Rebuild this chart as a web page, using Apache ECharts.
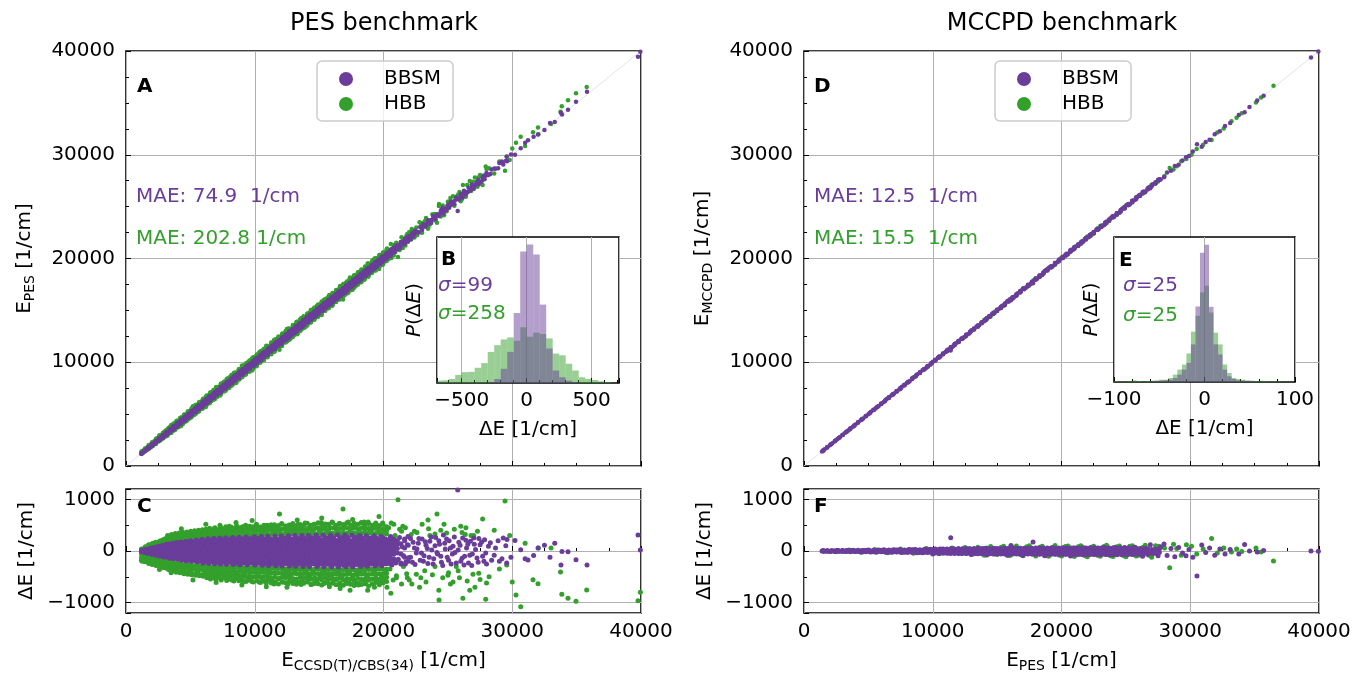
<!DOCTYPE html>
<html><head><meta charset="utf-8">
<script src="https://cdn.jsdelivr.net/npm/echarts@6/dist/echarts.min.js"></script>
<style>html,body{margin:0;padding:0;background:#fff}#c{width:1359px;height:679px}</style>
</head><body><div id="c"></div>
<script>
// ---------- DATA ----------
// PES benchmark points: [E_CCSD(T)/CBS(34), dE]  (E_PES = E_ref - dE)
const pesBbsm = [
[1240,-10],[1300,15],[1380,-25],[1450,5],[1520,30],[1600,-35],[1660,10],[1740,-50],[1810,45],[1880,-5],[1950,60],[2020,-65],[2090,20],[2160,-30],[2230,75],[2300,-80],[2370,35],[2440,-10],[2510,90],[2580,-95],[2650,45],[2720,-45],[2790,105],[2860,-110],[2930,0],[3000,60],
[3060,-120],[3120,125],[3180,-60],[3240,20],[3300,135],[3370,-140],[3430,70],[3490,-75],[3550,5],[3620,150],[3680,-150],[3740,85],[3800,-90],[3860,30],[3930,165],[4000,-160],[4060,100],[4120,-105],[4180,-20],[4250,175],[4310,-180],[4370,45],[4430,120],[4500,-125],[4560,10],[4620,185],[4690,-190],[4750,-55],[4810,135],[4880,60],[4940,-140],
[5010,200],[5080,-200],[5140,-15],[5200,140],[5270,-145],[5330,75],[5390,-80],[5460,215],[5520,-210],[5590,5],[5650,150],[5720,-155],[5780,85],[5850,-90],[5910,225],[5980,-230],[6040,20],[6110,165],[6170,-160],[6240,95],[6300,-100],[6370,235],[6430,-235],[6500,-25],[6560,170],[6630,-175],[6690,105],[6760,-105],[6820,240],[6890,-245],[6950,40],[7020,180],[7080,-185],[7150,110],[7210,-115],[7280,250],[7340,-250],[7410,-10],[7470,185],[7540,-190],[7600,120],[7670,-120],[7730,255],[7800,-255],[7860,50],[7930,-60],
[8000,195],[8070,-195],[8140,125],[8210,-130],[8280,260],[8350,-260],[8420,30],[8490,190],[8560,-200],[8630,135],[8700,-130],[8770,265],[8840,-265],[8910,-40],[8980,60],
[9050,200],[9120,-205],[9190,140],[9260,-140],[9330,270],[9400,-265],[9470,15],[9540,205],[9610,-210],[9680,145],[9750,-145],[9820,75],[9890,-75],[9960,275],
[10030,-270],[10100,210],[10170,-215],[10240,150],[10310,-150],[10380,80],[10450,-85],[10520,280],[10590,-275],[10660,0],[10730,215],[10800,-220],[10870,155],[10940,-155],[11010,285],
[11080,-280],[11150,85],[11220,-90],[11290,220],[11360,-225],[11430,160],[11500,-160],[11570,290],[11640,-285],[11710,25],[11780,225],[11850,-230],[11920,165],[11990,-165],
[12060,290],[12130,-290],[12200,90],[12270,-95],[12340,230],[12410,-235],[12480,170],[12550,-170],[12620,295],[12690,-290],[12760,-20],[12830,230],[12900,-235],[12970,175],
[13040,-175],[13110,300],[13180,-295],[13250,95],[13320,-100],[13390,235],[13460,-240],[13530,180],[13600,-180],[13670,300],[13740,-300],[13810,40],[13880,240],[13950,-245],
[14020,180],[14100,-185],[14170,300],[14250,-300],[14320,100],[14400,-105],[14470,240],[14550,-245],[14620,185],[14700,-185],[14770,305],[14850,-300],[14920,-30],[15000,245],
[15070,-250],[15150,190],[15220,-190],[15300,305],[15370,-305],[15450,105],[15520,-110],[15600,250],[15670,-255],[15750,190],[15820,-195],[15900,310],[15970,-305],[16050,50],
[16120,250],[16200,-255],[16270,195],[16350,-195],[16420,310],[16500,-310],[16570,110],[16650,-115],[16720,255],[16800,-260],[16870,195],[16950,-200],[17020,310],[17100,-305],
[17170,-10],[17250,255],[17320,-260],[17400,200],[17470,-200],[17550,305],[17620,-305],[17700,110],[17770,-115],[17850,255],[17920,-260],[18000,200],[18070,-200],[18150,300],
[18220,-300],[18300,60],[18370,250],[18450,-255],[18520,195],[18600,-200],[18670,295],[18750,-295],[18820,110],[18900,-110],[18970,245],[19050,-250],[19120,190],[19200,-195],
[19270,290],[19350,-290],[19420,-30],[19500,240],[19570,-245],[19650,185],[19720,-190],[19800,280],[19870,-285],[19950,100],
[20050,-105],[20150,230],[20250,-240],[20350,180],[20450,-180],[20550,280],[20650,-270],[20750,40],[20850,220],[20950,-230],[21050,150],[21150,-160],[21250,260],[21350,-250],[21450,80],[21550,-90],[21650,200],[21750,-210],[21850,120],[21950,-130],[22100,240],[22250,-220],[22400,60],[22550,-40],
[22700,150],[22850,-180],[23000,230],[23150,-90],[23300,110],[23450,-240],[23600,190],[23750,20],[23900,-150],[24050,260],[24200,-60],[24350,130],[24500,-220],[24650,310],[24800,40],[24950,-120],[25100,200],[25250,-250],[25400,90],[25550,-30],[25763,1180],[25850,170],[26000,-200],[26150,250],[26300,-100],[26450,60],[26600,-230],[26750,190],[26900,-60],[27050,130],[27262,-136],[27400,240],[27620,175],[27800,-200],[27939,-39],[28150,90],[28400,-180],[28700,60],[29000,-200],[29300,250],[29569,-230],[29592,223],[29900,-120],[30213,204],[30656,25],[31000,-150],[31223,-175],[31658,-87],[32000,60],[32500,110],[32932,-120],[33300,150],[33786,-272],[33864,-8],[34330,-15],[34951,-167],[35806,-272],[39767,310],[39950,20],
[21700,-250],[21900,280],[22100,-120],[22300,170],[22450,-260],[22600,40],[22750,240],[22950,-40],[23100,-200],[23250,180],[23400,50],[23550,-120],[23700,270],[23850,-250],[24000,100],[24150,-30],[24300,200],[24450,-100],[24600,-280],[24750,150],[24900,230],[25050,-180],[25200,60],[25350,-60],[25500,270],[25650,-230],[25800,20],[25950,110],[26100,-140],[26250,-270],[26400,210],[26550,130],[26700,-80],[26850,-280],[27000,250],[27150,30],[27350,-220],[27500,120],[27700,-100],[27850,220],[28000,-250],[28300,160],[28600,-80],[28900,200],[29200,-150],[29500,100]
];
// dense core of the BBSM band: [E_ref, dE, dE, ...]
const pesBbsmCols = [
[1200,-10,12],[1480,-25,0,22],[1760,-38,-5,35],[2040,-55,-15,20,52],[2320,-68,-25,15,65],[2600,-85,-30,25,80],
[2880,-100,-45,5,50,98],[3160,-112,-55,-2,55,110],[3440,-125,-65,-10,45,120],[3720,-135,-75,-15,40,95,132],
[4000,-148,-90,-30,30,85,145],[4280,-158,-100,-40,20,78,152],[4560,-168,-110,-50,10,70,130,165],[4840,-176,-118,-60,0,60,118,175],
[5120,-185,-125,-65,-5,55,115,180],[5400,-190,-130,-70,-10,50,110,170,188],[5680,-196,-140,-80,-20,40,100,155,195],[5960,-200,-145,-85,-25,35,95,150,200],
[6240,-204,-150,-90,-30,30,90,150,205],[6520,-208,-150,-92,-35,25,85,145,208],[6800,-212,-155,-95,-38,20,78,138,210],[7080,-215,-158,-100,-40,18,75,135,214],
[7360,-218,-160,-102,-45,15,72,130,188,218],[7640,-220,-165,-105,-48,10,68,125,182,220],[7920,-224,-168,-110,-52,5,64,122,178,224],[8200,-226,-170,-112,-55,0,58,118,174,226],
[8480,-228,-172,-115,-58,-2,55,115,172,228],[8760,-230,-174,-118,-60,-5,52,110,170,230],[9040,-232,-176,-120,-62,-8,50,108,168,232],[9320,-234,-178,-122,-65,-10,48,105,165,234],
[9600,-236,-180,-124,-66,-12,45,102,162,236],[9880,-238,-180,-125,-68,-12,44,100,160,238],
[10160,-240,-182,-125,-68,-10,48,106,164,222,245],[10440,-244,-190,-132,-72,-15,42,100,158,215,242],[10720,-238,-178,-120,-62,-4,54,112,170,226],[11000,-246,-192,-135,-78,-20,38,96,154,210,246],
[11280,-240,-184,-126,-68,-8,50,108,166,224],[11560,-248,-195,-138,-80,-22,36,94,152,208,248],[11840,-242,-186,-128,-70,-12,46,104,162,220],[12120,-250,-196,-140,-82,-25,34,92,150,206,250],
[12400,-244,-188,-130,-72,-14,44,102,160,218,240],[12680,-250,-198,-142,-85,-28,30,88,146,204,250],[12960,-246,-190,-132,-74,-16,42,100,158,216],[13240,-252,-200,-145,-88,-30,28,86,144,202,252],
[13520,-248,-192,-134,-76,-18,40,98,156,214,244],[13800,-254,-202,-146,-90,-32,26,84,142,200,254],[14080,-248,-194,-136,-78,-20,38,96,154,212],[14360,-255,-204,-148,-92,-34,24,82,140,198,255],
[14640,-250,-195,-138,-80,-22,36,94,152,210,250],[14920,-256,-205,-150,-94,-36,22,80,138,196,256],[15200,-250,-196,-140,-82,-24,34,92,150,208],[15480,-256,-206,-150,-95,-38,20,78,136,194,256],
[15760,-252,-198,-142,-84,-26,32,90,148,206,252],[16040,-258,-206,-152,-96,-40,18,76,134,192,258],[16320,-252,-200,-144,-86,-28,30,88,146,204],[16600,-258,-208,-152,-98,-42,16,74,132,190,258],
[16880,-254,-200,-146,-88,-30,28,86,144,202,254],[17160,-258,-208,-154,-100,-44,14,72,130,188,258],[17440,-254,-202,-148,-90,-32,26,84,142,200],[17720,-256,-206,-152,-98,-42,16,74,132,190,256],
[18000,-252,-200,-146,-88,-30,28,86,144,202,250],[18280,-255,-205,-150,-96,-40,18,76,134,192,255],[18560,-250,-198,-144,-86,-28,30,88,146,204],[18840,-254,-204,-148,-94,-38,20,78,136,194,254],
[19120,-248,-196,-142,-84,-26,32,90,148,206,246],[19400,-252,-202,-146,-92,-36,22,80,138,196,252],[19680,-246,-194,-140,-82,-24,34,92,150,208],[19960,-250,-200,-144,-90,-34,24,82,140,198,250],
[20240,-244,-190,-136,-78,-20,38,96,154,212],[20520,-246,-194,-140,-86,-30,28,86,144,202,246],[20800,-220,-150,-60,10,90,160,226],[21080,-180,-40,50,130,200],
[21360,-230,-60,140],[21640,-120,60,230],[21920,-200,110]
];
const pesHbb = [
[1250,-200],[1300,40],[1400,-120],[1500,80],[1600,-160],[1700,100],[1800,-220],[1900,120],[2000,-250],[2100,150],[2200,-180],[2300,170],[2400,-270],[2500,140],[2600,-300],[2700,200],[2800,-230],[2900,220],[3000,-320],
[3080,240],[3150,-280],[3230,300],[3300,-360],[3380,190],[3450,-250],[3530,320],[3600,-390],[3680,260],[3750,-300],[3830,340],[3900,-410],[3980,200],[4050,-270],[4130,350],[4200,-420],[4280,280],[4350,-330],[4430,360],[4500,-440],[4580,230],[4650,-290],[4730,370],[4800,-450],[4880,300],[4950,-350],[5030,380],[5100,-460],[5180,250],[5250,-300],[5330,390],[5400,-470],[5480,320],[5550,-380],[5630,400],[5700,-480],[5780,270],[5850,-320],[5930,410],[6000,-490],
[6070,330],[6140,-400],[6210,420],[6280,-520],[6350,290],[6420,-340],[6490,440],[6560,-540],[6630,360],[6700,-430],[6770,300],[6840,-300],[6910,450],[6980,-550],[7050,380],
[7120,-460],[7190,320],[7260,-360],[7330,460],[7400,-560],[7470,280],[7540,-490],[7610,400],[7680,-320],[7750,470],[7820,-570],[7890,340],[7960,-420],
[8030,480],[8100,-520],[8170,300],[8240,-350],[8310,420],[8380,-580],[8450,360],[8520,-450],[8590,490],[8660,-300],[8730,310],[8800,-540],[8870,440],[8940,-390],
[9010,380],[9080,-600],[9150,290],[9220,-470],[9290,500],[9360,-330],[9430,340],[9500,-560],[9570,450],[9640,-410],[9710,300],[9780,-590],[9850,470],[9920,-310],
[9990,360],[10060,-500],[10130,520],[10200,-440],[10270,310],[10340,-600],[10410,430],[10480,-350],[10550,390],[10620,-530],[10690,480],[10760,-300],[10830,330],[10900,-620],
[10970,500],[11040,-460],[11110,290],[11180,-380],[11250,440],[11320,-570],[11390,370],[11460,-320],[11530,510],[11600,-610],[11670,320],[11740,-420],[11810,460],[11880,-530],
[11950,350],[12020,-300],[12090,530],[12160,-600],[12230,300],[12300,-480],[12370,420],[12440,-370],[12510,480],[12580,-640],[12650,340],[12720,-450],[12790,500],[12860,-320],
[12930,380],[13000,-560],[13070,450],[13140,-400],[13210,310],[13280,-620],[13350,520],[13420,-340],[13490,370],[13560,-500],[13630,470],[13700,-590],[13770,330],[13840,-430],
[13910,540],[13980,-310],[14050,400],[14120,-570],[14190,300],[14260,-480],[14330,490],[14400,-650],[14470,350],[14540,-380],[14610,520],[14680,-530],[14750,320],[14820,-600],
[14890,450],[14960,-340],[15030,380],[15100,-500],[15170,550],[15240,-420],[15310,310],[15380,-630],[15450,470],[15520,-360],[15590,400],[15660,-560],[15730,520],[15800,-470],
[15870,340],[15940,-310],[16010,560],[16080,-600],[16150,300],[16220,-440],[16290,480],[16360,-540],[16430,360],[16500,-380],[16570,530],[16640,-660],[16710,330],[16780,-490],
[16850,440],[16920,-330],[16990,500],[17060,-580],[17130,310],[17200,-420],[17270,560],[17340,-620],[17410,380],[17480,-350],[17550,470],[17620,-520],[17690,340],[17760,-600],
[17830,510],[17900,-440],[17970,300],[18040,-660],[18110,420],[18180,-380],[18250,540],[18320,-560],[18390,350],[18460,-320],[18530,480],[18600,-620],[18670,330],[18740,-470],
[18810,560],[18880,-540],[18950,380],[19020,-350],[19090,450],[19160,-640],[19230,310],[19300,-430],[19370,520],[19440,-580],[19510,360],[19580,-330],[19650,490],[19720,-610],
[19790,340],[19860,-480],[19930,540],[20000,-550],
[20100,380],[20200,-420],[20270,-700],[20400,450],[20500,-350],[20600,540],[20750,-560],[20900,300],[21000,-480],[21126,990],[21250,420],[21400,-640],[21550,-300],[21700,450],[21850,-520],[22000,-560],[22150,320],[22400,380],[22550,-450],[22800,-700],[23000,520],[23200,-380],[23456,600],[23600,300],[23800,-460],[24000,-300],[24155,718],[24311,-946],[24450,400],[24600,-520],[24900,350],[25050,-420],[25200,-640],[25500,420],[25650,-300],[25800,-380],[26000,480],[26167,-913],[26350,320],[26500,-580],[26800,300],[26950,-450],[27100,-700],[27300,380],[27500,-550],[27697,621],[27939,-932],[28200,-500],[28600,400],[29000,-350],[29437,970],[29569,-272],[29800,300],[30000,-600],[30291,-854],[30656,-1078],[31000,150],[31612,-555],[32000,-635],[32032,58],[33010,58],[33748,-408],[33849,-835],[34330,-913],[34951,-971],[35781,-757],[39767,-965],[39950,-799],
[8544,553],[11922,718],[16854,815],[19650,670],[6200,520],[9800,590],[13300,600],[15200,640],[17600,610],[18500,560],[7300,500],[4300,430],[10900,-690],[14630,-627],[16630,-725],[18770,-760],[20570,-820],[12500,-700],[9000,-660],[7000,-610],[5200,-560],[15800,-690],[17400,-760],[19300,-700],[13600,-650],[11500,-640],[3500,-420],[2600,-360],[20800,520],[21500,480],[22200,-640],[22900,-520],[23500,430],[24300,-760],[24700,520],[25400,-600],[26100,360],[26700,-760],[27400,-430],[28000,-620],[21000,-520],[21400,380],[21800,-440],[22600,360],[23300,-600],[24000,330],[25000,-470],[25900,-520],[26400,450],[27000,300]
];
// dense outer fringe of the HBB band: [E_ref, dE, dE, ...]
const pesHbbCols = [
[1200,40,-60,-130,-180],[1480,60,-90,-160,-210],[1760,80,120,-110,-180,-240],[2040,95,140,-130,-200,-260],[2320,110,165,-150,-220,-280],
[2600,130,190,-170,-240,-300],[2880,150,215,-190,-255,-320],[3160,170,235,-205,-270,-335],[3440,185,250,-215,-285,-350],[3720,200,265,-230,-300,-365],
[4000,205,250,295,-240,-310,-380],[4280,215,265,310,-250,-320,-395],[4560,225,280,325,-260,-330,-405],[4840,235,290,340,-270,-340,-420],[5120,240,300,350,-275,-350,-430],
[5400,245,305,360,-280,-355,-440],[5680,250,310,370,-285,-360,-450],[5960,255,320,380,-290,-370,-460],[6240,260,325,385,-290,-370,-440,-480],
[6520,270,335,400,-295,-360,-430,-495],[6800,275,345,425,-300,-370,-445,-520],[7080,280,350,410,-300,-375,-450,-505],[7360,285,365,445,-305,-380,-460,-545],
[7640,290,360,430,-305,-385,-455,-515],[7920,290,360,420,-310,-390,-465,-540],[8200,295,380,460,-310,-390,-475,-560],[8480,300,370,435,-315,-390,-460,-530],
[8760,300,375,450,-315,-395,-485,-575],[9040,305,390,470,-320,-395,-475,-550],[9320,305,375,445,-320,-400,-495,-590],[9600,310,395,480,-325,-400,-480,-560],
[9880,310,385,455,-325,-410,-505,-600],[10160,315,400,490,-330,-405,-490,-575],[10440,315,390,465,-330,-415,-510,-610],[10720,320,410,500,-335,-410,-495,-585],
[11000,320,395,470,-335,-405,-480,-560],[11280,320,415,510,-340,-425,-520,-620],[11560,325,400,480,-340,-420,-505,-595],[11840,325,410,495,-340,-430,-535,-640],
[12120,325,420,520,-345,-425,-510,-600],[12400,330,405,485,-345,-430,-520,-615],[12680,330,415,505,-345,-420,-500,-585],[12960,330,430,530,-350,-435,-530,-630],
[13240,330,410,490,-350,-440,-540,-645],[13520,335,425,515,-350,-430,-515,-605],[13800,335,415,500,-350,-435,-525,-625],[14080,335,435,535,-355,-430,-510,-600],
[14360,335,415,495,-355,-445,-545,-650],[14640,340,430,520,-355,-435,-520,-615],[14920,340,440,545,-355,-440,-535,-635],[15200,340,420,505,-360,-450,-555,-660],
[15480,340,430,525,-360,-435,-515,-610],[15760,340,425,510,-360,-445,-540,-640],[16040,345,445,550,-360,-440,-525,-625],[16320,345,420,500,-360,-450,-550,-655],
[16600,345,435,530,-365,-440,-520,-615],[16880,345,430,515,-365,-455,-560,-665],[17160,345,445,545,-365,-445,-530,-630],[17440,345,425,505,-365,-450,-545,-645],
[17720,345,440,535,-365,-460,-565,-670],[18000,345,430,520,-365,-440,-525,-620],[18280,345,445,550,-365,-450,-550,-650],[18560,345,425,510,-365,-445,-535,-635],
[18840,345,435,530,-360,-455,-565,-675],[19120,340,420,500,-360,-445,-540,-640],[19400,340,440,540,-360,-440,-520,-610],[19680,340,415,490,-355,-445,-545,-655],
[19960,335,425,520,-355,-440,-525,-620],[20240,330,400,470,-350,-430,-510,-590]
];
// MCCPD benchmark points: [E_PES, dE]  (E_MCCPD = E_PES - dE)
const mccBbsm = [
[1400,0],[1600,-5],[1800,6],[2000,-8],[2200,4],[2400,-10],[2600,8],[2800,-6],[3000,12],[3200,-12],[3400,5],[3600,-15],[3800,14],[4000,-8],[4200,16],[4400,-18],[4600,10],[4800,-14],[5000,18],[5200,-20],[5400,6],[5600,-22],[5800,17],[6000,-12],[6200,22],[6400,-24],[6600,8],[6800,-25],[7000,22],[7200,-15],[7400,26],[7600,-28],[7800,12],[8000,-26],[8200,30],[8400,-20],[8600,28],[8800,-32],[9000,10],[9200,-34],[9400,32],[9600,-22],[9800,36],[10000,-60],[10200,15],[10400,-38],[10600,38],[10800,-28],[11000,24],[11200,-40],[11394,256],[11600,40],[11800,-30],[12000,42],[12200,-45],[12400,20],[12600,-42],[12800,44],[13000,-70],[13200,28],[13400,-46],[13600,45],[13800,-36],[14000,46],[14200,-75],[14400,24],[14600,-44],[14800,48],[15000,-40],[15200,30],[15400,-50],[15600,48],[15800,-80],[16077,105],[16200,-52],[16400,34],[16600,-48],[16800,50],[17000,-85],[17200,36],[17400,-50],[17600,52],[17790,175],[17900,-55],[18100,40],[18300,-52],[18500,55],[18700,-90],[18900,42],[19100,-54],[19300,56],[19500,-60],[19700,44],[19900,-56],[20100,58],[20300,-62],[20500,46],[20700,-95],[20900,60],[21100,-64],[21300,48],[21500,-58],[21700,62],[21900,-66],[22100,50],[22300,-60],[22500,64],[22700,-68],[22900,52],[23100,-62],[23300,66],[23500,-70],[23700,54],[23900,-64],[24100,68],[24300,-72],[24500,56],[24700,-66],[24900,70],[25100,-74],[25300,58],[25500,-68],[25700,72],[25900,-60],[26100,40],[26300,-100],[26500,55],[26700,-70],[26900,120],[27100,-50],[27300,30],[27500,-90],[27700,80],[27962,136],[28200,-85],[28500,50],[28800,-110],[29100,70],[29400,-40],[29670,-90],[29900,30],[30200,-120],[30524,-485],[30893,117],[31200,-30],[31500,60],[31900,-80],[32300,40],[32700,-60],[33100,30],[33770,-60],[34221,124],[34600,0],[35200,-20],[35700,10],[39378,0],[39950,-5]
];
const mccBbsmCols = [
[1500,-4,5],[1800,3,-6],[2100,-5,7],[2400,6,-8],[2700,-7,5],[3000,8,-9],[3300,-8,10],[3600,9,-10],[3900,-11,10],[4200,12,-10],[4500,-12,11],[4800,13,-12],[5100,-13,12],[5400,14,-14],[5700,-15,13],[6000,15,-16],
[6300,-18,0,16],[6600,17,-2,-19],[6900,-20,2,18],[7200,19,-1,-21],[7500,-22,3,20],[7800,21,-3,-22],[8100,-24,2,22],[8400,23,-4,-25],[8700,-26,1,24],[9000,25,-2,-27],[9300,-28,3,26],[9600,27,-3,-29],[9900,-30,2,28],
[10200,-40,-12,14,38],[10500,36,10,-16,-42],[10800,-44,-14,12,40],[11100,38,8,-18,-45],[11400,-46,-15,10,42],[11700,40,12,-16,-47],[12000,-48,-18,14,44],[12300,42,10,-20,-48],[12600,-50,-16,12,46],[12900,44,14,-18,-50],
[13200,-52,-20,10,46],[13500,46,12,-22,-52],[13800,-54,-18,14,48],[14100,48,10,-20,-54],[14400,-55,-22,12,50],[14700,50,14,-18,-56],[15000,-56,-20,10,50],[15300,50,12,-22,-56],[15600,-57,-18,14,52],[15900,52,10,-20,-58],
[16200,-58,-22,12,52],[16500,52,14,-18,-58],[16800,-60,-20,10,54],[17100,54,12,-22,-60],[17400,-60,-18,14,54],[17700,54,10,-20,-60],[18000,-62,-22,12,56],[18300,56,14,-18,-62],[18600,-62,-20,10,56],[18900,56,12,-22,-62],
[19200,-64,-18,14,58],[19500,58,10,-20,-64],[19800,-64,-22,12,58],[20100,58,14,-18,-64],[20400,-65,-20,10,60],[20700,60,12,-22,-65],[21000,-66,-18,14,60],[21300,60,10,-20,-66],[21600,-66,-22,12,60],[21900,60,14,-18,-66],
[22200,-66,-20,10,60],[22500,60,12,-22,-66],[22800,-66,-18,14,60],[23100,60,10,-20,-66],[23400,-66,-22,12,60],[23700,60,14,-18,-66],[24000,-66,-20,10,60],[24300,60,12,-22,-66],[24600,-64,-18,14,58],[24900,58,10,-20,-64],
[25200,-62,-22,12,56],[25500,56,14,-18,-62],[25800,-60,-20,10,54],[26100,50,-15,-55],[26400,-50,10,45],[26700,45,-20],[27000,-40,30],[27300,35,-45],[27600,-30,40]
];
const mccHbb = [
[1500,10],[2500,-15],[3500,20],[4500,-25],[5500,30],[6500,-35],[7500,40],[8500,-45],[9500,50],[10500,-55],[11500,60],[12000,-40],[12500,70],[13000,-65],[13500,75],[14000,-80],[14500,85],[15000,-70],[15500,90],[16000,-85],[16500,95],[17000,-90],[17500,100],[18000,-95],[18500,90],[19000,-100],[19500,105],[20000,-95],[20500,95],[21000,-105],[21500,100],[22000,-110],[22500,90],[23000,-100],[23500,110],[24000,-105],[24500,95],[25000,-110],[25500,100],[26000,-80],[26500,110],[27000,-120],[27500,90],[28000,60],[28404,-326],[28700,130],[28950,50],[29300,-80],[29700,120],[30100,90],[30500,-60],[31000,40],[31658,243],[32100,-40],[32600,60],[33200,-20],[33600,40],[34000,-10],[35107,60],[35500,-20],[36466,-194],
[14200,60],[14800,-60],[15300,70],[15800,-75],[16300,65],[16800,-70],[17300,80],[17800,-65],[18300,75],[18800,-80],[19300,70],[19800,-75],[20300,85],[20800,-70],[21300,80],[21800,-85],[22300,75],[22800,-80],[23300,85],[23800,-90],[24300,80],[24800,-85],[25300,90],[25800,-95],[26300,70],[26800,-80],[27300,100]
];
// histograms (bin left edges, heights in relative density units)
const pesHistEdges = [-700,-650,-600,-550,-500,-450,-400,-350,-300,-250,-200,-150,-100,-50,0,50,100,150,200,250,300,350,400,450,500,550,600,650];
const pesHistWidth = 50;
const pesHistHbb  = [7,8,12,24,32,33,45,59,92,112,129,135,125,165,137,149,145,132,87,82,57,37,17,12,9,5,3,0];
const pesHistBbsm = [0,0,0,0,0,0,0,0,2,12,42,92,207,389,410,380,232,102,37,17,7,2,0,0,0,0,0,0];
const mccHistEdges = [-100,-95,-90,-85,-80,-75,-70,-65,-60,-55,-50,-45,-40,-35,-30,-25,-20,-15,-10,-5,0,5,10,15,20,25,30,35,40,45,50,55,60,65,70,75,80,85,90,95];
const mccHistWidth = 5;
const mccHistHbb  = [3,2,2,3,5,3,2,3,4,5,7,7,12,22,37,52,85,150,197,267,287,207,147,112,52,27,12,9,7,5,4,3,4,3,2,3,2,1,1,0];
const mccHistBbsm = [0,0,0,0,0,0,0,0,2,3,4,5,7,12,22,37,57,112,225,385,409,224,112,82,37,17,9,5,4,3,2,0,0,0,0,0,0,0,0,0];
const diagLine = [[0,0],[40000,40000]];

// ---------- CHART ----------
const FONT = 'DejaVu Sans';
const PURPLE = '#6a3d9a', GREEN = '#33a02c', GRID = '#b0b0b0';
const fmt = v => String(v).replace('-', '\u2212');
const unCols = cols => cols.flatMap(c => c.slice(1).map(v => [c[0], v]));
const pesB = unCols(pesBbsmCols).concat(pesBbsm);
const pesH = unCols(pesHbbCols).concat(pesHbb);
const mccB = unCols(mccBbsmCols).concat(mccBbsm);
const mccH = mccHbb;

function valAxis(gi, o) {
  return Object.assign({
    type: 'value', gridIndex: gi,
    axisLine: { show: false },
    axisTick: { show: true, inside: true, length: 5, lineStyle: { color: '#000', width: 1 } },
    minorTick: { show: true, splitNumber: 4, length: 3, lineStyle: { color: '#000', width: 1 } },
    splitLine: { show: true, lineStyle: { color: GRID, width: 1 } },
    axisLabel: { show: true, color: '#000', fontSize: 20, fontFamily: FONT, formatter: fmt },
    nameTextStyle: { color: '#000', fontSize: 20, fontFamily: FONT },
    nameLocation: 'middle'
  }, o);
}
const subRich = {
  m: { fontSize: 20, fontFamily: FONT, color: '#000', lineHeight: 24 },
  s: { fontSize: 14, fontFamily: FONT, color: '#000', lineHeight: 8, verticalAlign: 'bottom' }
};
const mainX = (gi, show, name) => valAxis(gi, {
  min: 0, max: 40000, interval: 10000,
  axisLabel: { show: show, color: '#000', fontSize: 20, fontFamily: FONT, margin: 9, formatter: fmt },
  name: name || '', nameGap: 36, nameTextStyle: { rich: subRich }
});
const mainY = (gi, name) => valAxis(gi, {
  min: 0, max: 40000, interval: 10000,
  axisLabel: { show: true, color: '#000', fontSize: 20, fontFamily: FONT, margin: 11, formatter: fmt },
  name: name, nameGap: 89, nameTextStyle: { rich: subRich }
});
const resY = (gi) => valAxis(gi, {
  min: -1200, max: 1200, splitNumber: 2,
  minorTick: { show: true, splitNumber: 2, length: 3, lineStyle: { color: '#000' } },
  axisLabel: { show: true, color: '#000', fontSize: 20, fontFamily: FONT, margin: 11, formatter: fmt, showMinLabel: false, showMaxLabel: false },
  name: 'ΔE [1/cm]', nameGap: 89
});
const insetY = (gi) => ({
  type: 'value', gridIndex: gi, min: 0, max: 432, z: 11,
  axisLine: { show: false }, axisTick: { show: false }, axisLabel: { show: false }, splitLine: { show: false },
  name: '{i|P}{n|(Δ}{i|E}{n|)}', nameLocation: 'middle', nameGap: 12,
  nameTextStyle: { rich: { i: { fontSize: 20, fontFamily: FONT, fontStyle: 'italic', color: '#000' }, n: { fontSize: 20, fontFamily: FONT, color: '#000' } } }
});

function histSeries(name, gi, edges, width, heights, color) {
  return {
    type: 'custom', name: name, xAxisIndex: gi, yAxisIndex: gi, z: 12, clip: true, silent: true,
    data: edges.map((e, i) => [e, e + width, heights[i]]),
    renderItem: function (params, api) {
      const p0 = api.coord([api.value(0), api.value(2)]);
      const p1 = api.coord([api.value(1), 0]);
      return { type: 'rect', shape: { x: p0[0], y: p0[1], width: p1[0] - p0[0], height: p1[1] - p0[1] },
        style: { fill: color, opacity: 0.5 } };
    }
  };
}
function scat(name, xi, data, color, size) {
  return { type: 'scatter', name: name, xAxisIndex: xi, yAxisIndex: xi, data: data, symbolSize: size,
    itemStyle: { color: color, opacity: 1 }, silent: true, z: 3, large: false };
}
const toMain = arr => arr.map(p => [p[0], p[0] - p[1]]);

const gridBase = { show: true, borderColor: '#000', borderWidth: 1.6, backgroundColor: 'transparent' };
const option = {
  animation: false,
  textStyle: { fontFamily: FONT },
  grid: [
    Object.assign({ left: 126, top: 51, width: 515, height: 415 }, gridBase),
    Object.assign({ left: 126, top: 489, width: 515, height: 124 }, gridBase),
    Object.assign({ left: 804, top: 51, width: 515, height: 415 }, gridBase),
    Object.assign({ left: 804, top: 489, width: 515, height: 124 }, gridBase),
    Object.assign({ left: 437, top: 237, width: 182, height: 146, z: 10 }, gridBase, { backgroundColor: '#fff' }),
    Object.assign({ left: 1114, top: 237, width: 181, height: 145, z: 10 }, gridBase, { backgroundColor: '#fff' })
  ],
  xAxis: [
    mainX(0, false),
    mainX(1, true, '{m|E}{s|CCSD(T)/CBS(34)}{m| [1/cm]}'),
    mainX(2, false),
    mainX(3, true, '{m|E}{s|PES}{m| [1/cm]}'),
    valAxis(4, { min: -690, max: 710, splitNumber: 3, z: 11,
      minorTick: { show: true, splitNumber: 5, length: 3, lineStyle: { color: '#000' } },
      axisLabel: { show: true, color: '#000', fontSize: 20, fontFamily: FONT, margin: 8, formatter: fmt, showMinLabel: false, showMaxLabel: false },
      name: 'ΔE [1/cm]', nameGap: 37 }),
    valAxis(5, { min: -100, max: 100, interval: 100, z: 11,
      minorTick: { show: true, splitNumber: 5, length: 3, lineStyle: { color: '#000' } },
      axisLabel: { show: true, color: '#000', fontSize: 20, fontFamily: FONT, margin: 8, formatter: fmt },
      name: 'ΔE [1/cm]', nameGap: 37 })
  ],
  yAxis: [
    mainY(0, '{m|E}{s|PES}{m| [1/cm]}'),
    resY(1),
    mainY(2, '{m|E}{s|MCCPD}{m| [1/cm]}'),
    resY(3),
    insetY(4),
    insetY(5)
  ],
  legend: [0, 1].map(k => ({
    data: ['BBSM', 'HBB'], orient: 'vertical', left: k ? 995 : 317, top: 61,
    icon: 'circle', itemWidth: 14, itemHeight: 14, itemGap: 5,
    padding: [8, 12, 7, 22],
    textStyle: { fontSize: 20, fontFamily: FONT, color: '#000', padding: [0, 0, 0, 26] },
    backgroundColor: 'rgba(255,255,255,0.8)', borderColor: '#cccccc', borderWidth: 1.5, borderRadius: 5,
    selectedMode: false
  })),
  series: [
    { type: 'line', name: 'diag', xAxisIndex: 0, yAxisIndex: 0, data: diagLine, symbol: 'none', silent: true,
      lineStyle: { color: '#e4e4e4', width: 1 }, z: 2 },
    { type: 'line', name: 'diag2', xAxisIndex: 2, yAxisIndex: 2, data: diagLine, symbol: 'none', silent: true,
      lineStyle: { color: '#e4e4e4', width: 1 }, z: 2 },
    scat('HBB', 0, toMain(pesH), GREEN, 4.5),
    scat('BBSM', 0, toMain(pesB), PURPLE, 4.5),
    scat('HBB', 1, pesH, GREEN, 5),
    scat('BBSM', 1, pesB, PURPLE, 5),
    scat('HBB', 2, toMain(mccH), GREEN, 4.5),
    scat('BBSM', 2, toMain(mccB), PURPLE, 4.5),
    scat('HBB', 3, mccH, GREEN, 5),
    scat('BBSM', 3, mccB, PURPLE, 5),
    histSeries('HBB hist', 4, pesHistEdges, pesHistWidth, pesHistHbb, GREEN),
    histSeries('BBSM hist', 4, pesHistEdges, pesHistWidth, pesHistBbsm, PURPLE),
    histSeries('HBB hist2', 5, mccHistEdges, mccHistWidth, mccHistHbb, GREEN),
    histSeries('BBSM hist2', 5, mccHistEdges, mccHistWidth, mccHistBbsm, PURPLE)
  ],
  graphic: (function () {
    const t = (x, y, text, o) => ({ type: 'text', x: x, y: y, z: 100, silent: true,
      style: Object.assign({ text: text, fontSize: 20, fontFamily: FONT, fill: '#000', align: 'left', verticalAlign: 'middle' }, o || {}) });
    const sig = (x, y, val, color) => ({ type: 'text', x: x, y: y, z: 100, silent: true,
      style: { text: '{i|σ}{n|=' + val + '}', fill: color, align: 'left', verticalAlign: 'middle',
        rich: { i: { fontSize: 20, fontFamily: FONT, fontStyle: 'italic', fill: color }, n: { fontSize: 20, fontFamily: FONT, fill: color } } } });
    return [
      t(384, 24, 'PES benchmark', { align: 'center', fontSize: 24 }),
      t(1062, 24, 'MCCPD benchmark', { align: 'center', fontSize: 24 }),
      t(137, 87, 'A', { fontWeight: 'bold' }),
      t(137, 507, 'C', { fontWeight: 'bold' }),
      t(814, 87, 'D', { fontWeight: 'bold' }),
      t(814, 507, 'F', { fontWeight: 'bold' }),
      t(441, 260, 'B', { fontWeight: 'bold' }),
      t(1119, 261, 'E', { fontWeight: 'bold' }),
      t(136, 197, 'MAE: 74.9  1/cm', { fill: PURPLE }),
      t(136, 239, 'MAE: 202.8 1/cm', { fill: GREEN }),
      t(814, 197, 'MAE: 12.5  1/cm', { fill: PURPLE }),
      t(814, 239, 'MAE: 15.5  1/cm', { fill: GREEN }),
      sig(438, 286, '99', PURPLE),
      sig(438, 314, '258', GREEN),
      sig(1123, 286, '25', PURPLE),
      sig(1123, 316, '25', GREEN)
    ];
  })()
};
const chart = echarts.init(document.getElementById('c'), null, { renderer: 'canvas' });
chart.setOption(option);
</script></body></html>
